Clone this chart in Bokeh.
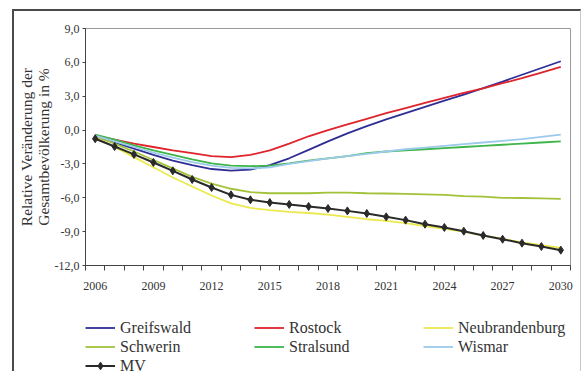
from bokeh.plotting import figure
from bokeh.layouts import column
from bokeh.models import FixedTicker, Legend, LegendItem, Range1d
from bokeh.embed import file_html
from bokeh.resources import INLINE

# Relative change of total population (%) vs. 2005, by city
years = list(range(2006, 2031))
label_years = [2006, 2009, 2012, 2015, 2018, 2021, 2024, 2027, 2030]
y_ticks = [-12, -9, -6, -3, 0, 3, 6, 9]

greifswald = [-0.6, -1.1, -1.65, -2.2, -2.7, -3.1, -3.45, -3.6, -3.5, -3.1,
              -2.5, -1.75, -1.0, -0.3, 0.35, 0.95, 1.5, 2.05, 2.6, 3.15,
              3.72, 4.3, 4.9, 5.5, 6.1]
rostock = [-0.5, -0.85, -1.2, -1.5, -1.8, -2.05, -2.3, -2.4, -2.2, -1.8,
           -1.2, -0.55, 0.0, 0.5, 1.0, 1.5, 1.95, 2.4, 2.85, 3.3,
           3.7, 4.15, 4.6, 5.1, 5.6]
neubrandenburg = [-0.6, -1.5, -2.4, -3.3, -4.2, -5.0, -5.8, -6.5, -6.9, -7.1,
                  -7.25, -7.35, -7.5, -7.7, -7.9, -8.05, -8.25, -8.5, -8.75, -9.0,
                  -9.35, -9.65, -9.95, -10.2, -10.45]
schwerin = [-0.5, -1.2, -1.9, -2.65, -3.4, -4.15, -4.75, -5.2, -5.5, -5.6,
            -5.6, -5.6, -5.55, -5.55, -5.6, -5.62, -5.65, -5.7, -5.75, -5.85,
            -5.9, -6.0, -6.02, -6.05, -6.1]
stralsund = [-0.4, -0.85, -1.35, -1.8, -2.2, -2.6, -2.95, -3.15, -3.2, -3.15,
             -2.95, -2.7, -2.5, -2.3, -2.05, -1.9, -1.8, -1.7, -1.6, -1.5,
             -1.4, -1.3, -1.2, -1.1, -1.0]
wismar = [-0.5, -1.0, -1.5, -2.0, -2.45, -2.85, -3.15, -3.35, -3.4, -3.3,
          -3.0, -2.75, -2.5, -2.3, -2.1, -1.9, -1.7, -1.55, -1.4, -1.25,
          -1.1, -0.95, -0.8, -0.6, -0.4]
mv = [-0.77, -1.46, -2.16, -2.87, -3.61, -4.38, -5.09, -5.74, -6.18, -6.42,
      -6.59, -6.77, -6.95, -7.16, -7.39, -7.69, -7.98, -8.34, -8.63, -8.96,
      -9.34, -9.67, -10.02, -10.32, -10.64]

series_names = ["Greifswald", "Rostock", "Neubrandenburg", "Schwerin",
                "Stralsund", "Wismar"]
series_values = [greifswald, rostock, neubrandenburg, schwerin, stralsund, wismar]
series_colors = ["#2e2e96", "#e0242c", "#ece94e", "#a2c23a", "#3db54a", "#9ccaea"]
MV_COLOR = "#2a2a2a"

SERIF = "Liberation Serif"
TEXT = "#333333"

p = figure(width=566, height=290, output_backend="svg", toolbar_location=None,
           x_range=Range1d(2005.5, 2030.5), y_range=Range1d(-12, 9),
           min_border_left=70, min_border_right=10, min_border_top=17,
           min_border_bottom=36, background_fill_color="white",
           border_fill_color="white")
p.grid.visible = False
p.outline_line_color = "#999999"
p.outline_line_width = 1

# x axis: labels every third year, tick marks between the years
xa = p.xaxis[0]
xa.ticker = FixedTicker(ticks=label_years,
                        minor_ticks=[y - 0.5 for y in years] + [years[-1] + 0.5])
xa.major_tick_line_color = None
xa.major_tick_out = 0
xa.major_tick_in = 0
xa.minor_tick_out = 5
xa.minor_tick_in = 0
xa.minor_tick_line_color = "#444444"
xa.axis_line_color = "#444444"
xa.major_label_standoff = 11
xa.major_label_text_font = SERIF
xa.major_label_text_font_size = "12px"
xa.major_label_text_color = TEXT

ya = p.yaxis[0]
ya.ticker = FixedTicker(ticks=y_ticks)
ya.major_label_overrides = {v: f"{v:.1f}".replace(".", ",") for v in y_ticks}
ya.minor_tick_line_color = None
ya.major_tick_out = 3
ya.major_tick_in = 0
ya.major_tick_line_color = "#444444"
ya.axis_line_color = "#444444"
ya.major_label_standoff = 3
ya.major_label_text_font = SERIF
ya.major_label_text_font_size = "12px"
ya.major_label_text_color = TEXT
ya.axis_label = "Relative Veränderung der\nGesamtbevölkerung in %"
ya.axis_label_text_font = SERIF
ya.axis_label_text_font_style = "normal"
ya.axis_label_text_font_size = "15.5px"
ya.axis_label_text_line_height = 1.0
ya.axis_label_text_color = TEXT
ya.axis_label_standoff = 0

for name, vals, color in zip(series_names, series_values, series_colors):
    p.line(years, vals, line_color=color, line_width=1.8)

p.line(years, mv, line_color=MV_COLOR, line_width=2)
p.scatter(years, mv, marker="diamond", size=8, fill_color=MV_COLOR,
          line_color=MV_COLOR)

# legend strip underneath the chart; its own renderers only carry the styles
lf = figure(width=566, height=70, output_backend="svg", toolbar_location=None,
            x_axis_location=None, y_axis_location=None,
            x_range=Range1d(0, 1), y_range=Range1d(0, 1),
            min_border=0, outline_line_color=None, background_fill_color="white",
            border_fill_color="white")
lf.grid.visible = False
items = []
for name, vals, color in zip(series_names, series_values, series_colors):
    r = lf.line(years[:1], vals[:1], line_color=color, line_width=1.8)
    items.append(LegendItem(label=name, renderers=[r]))
mv_l = lf.line(years[:1], mv[:1], line_color=MV_COLOR, line_width=2)
mv_s = lf.scatter(years[:1], mv[:1], marker="diamond", size=7,
                  fill_color=MV_COLOR, line_color=MV_COLOR)
items.append(LegendItem(label="MV", renderers=[mv_l, mv_s]))

legend = Legend(items=items, orientation="horizontal", ncols=3,
                location=(0, -4), padding=0, margin=0, spacing=0,
                glyph_width=30, glyph_height=19, label_height=19,
                label_width=134, label_standoff=5,
                label_text_font=SERIF, label_text_font_size="16px",
                label_text_color=TEXT, border_line_color=None,
                background_fill_alpha=0)
lf.add_layout(legend)

layout = column(p, lf, spacing=0)
# frame lines round the whole chart
layout.margin = (9, 0, 0, 12)
layout.styles = {"border-top": "2px solid #4a4a4a",
                 "border-left": "2px solid #4a4a4a",
                 "border-right": "1px solid #c8c8c8"}

open("out.html", "w").write(file_html(layout, INLINE))
